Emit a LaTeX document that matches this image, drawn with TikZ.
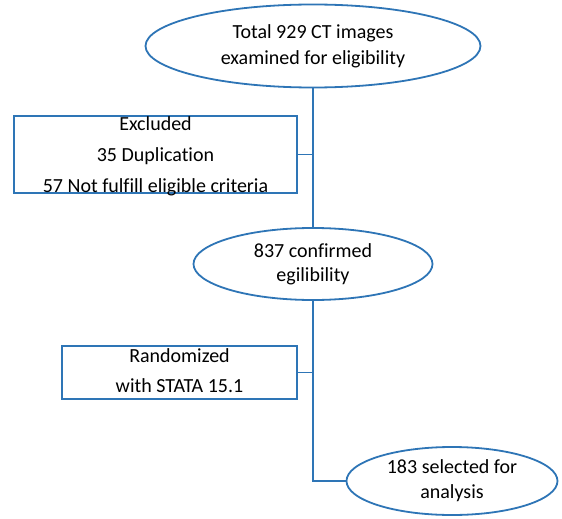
\documentclass[tikz,border=0pt]{standalone}
\usepackage{fontspec}
\setmainfont{Carlito}[Ligatures=NoCommon]
\usepackage{tikz}
\usetikzlibrary{shapes.geometric,calc}

\definecolor{flowblue}{RGB}{46,117,182}

\begin{document}
\begin{tikzpicture}[x=1pt,y=-1pt,line width=1.8pt]
    % `stage' is used for the ellipses on the main line.
    % `sidebox' is used for the boxes at the left, `sidetext' for their text.
    % `link' is used for the connecting lines.
    \tikzstyle{stage} = [draw=flowblue,ellipse,fill=white,inner sep=0pt,align=center,font=\fontsize{20}{25}\selectfont]
    \tikzstyle{sidebox} = [draw=flowblue,rectangle,fill=white,inner sep=0pt]
    \tikzstyle{sidetext} = [align=center,inner sep=0pt]
    \tikzstyle{link} = [draw=flowblue]
    %
    \useasboundingbox (0,0) rectangle (562,519);
    % Ellipses on the main line.
    \node[stage,minimum width=335pt,minimum height=83pt,font=\fontsize{20}{26}\selectfont] (total) at (313,46)
      {Total 929 CT images\\examined for eligibility};
    \node[stage,minimum width=239pt,minimum height=72pt,font=\fontsize{20}{24}\selectfont] (confirmed) at (313,264)
      {837 confirmed\\egilibility};
    \node[stage,minimum width=211pt,minimum height=68pt] (selected) at (452,481)
      {183 selected for\\analysis};
    % Boxes at the left.
    \node[sidebox,minimum width=283pt,minimum height=77pt] (excl) at (155.5,154.5) {};
    \node[sidetext,font=\fontsize{20}{31}\selectfont] (excltext) at (155.5,156)
      {Excluded\\35 Duplication\\57 Not fulfill eligible criteria};
    \node[sidebox,minimum width=235pt,minimum height=53pt] (rand) at (179.5,372.5) {};
    \node[sidetext,font=\fontsize{20}{30}\selectfont] (randtext) at (179.5,371)
      {Randomized\\with STATA 15.1};
    % Draw lines.
    \draw[link] (total) -- (confirmed);
    \draw[link] (excl.east) -- (excl.east -| total.south);
    \draw[link] (confirmed.south) |- (selected.west);
    \draw[link] (rand.east) -- (rand.east -| confirmed.south);
\end{tikzpicture}
\end{document}
